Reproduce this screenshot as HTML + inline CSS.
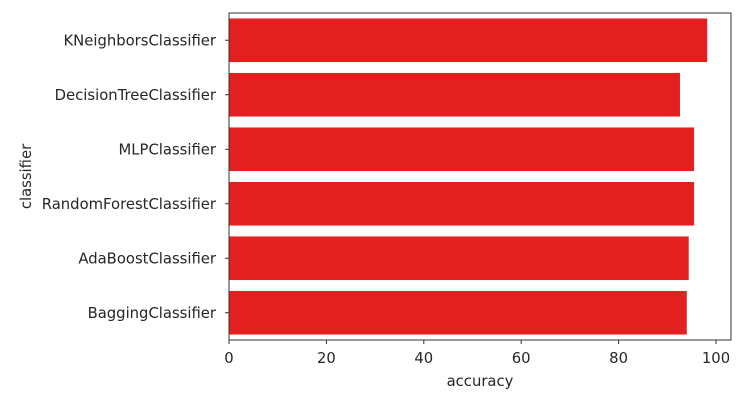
<!DOCTYPE html>
<html><head><meta charset="utf-8"><style>
body{margin:0;background:#fff;}
svg text{font-family:"DejaVu Sans","Liberation Sans",sans-serif;font-size:14.8px;fill:#262626;}
</style></head><body>
<svg id="chart" width="745" height="401" xmlns="http://www.w3.org/2000/svg"></svg>
<script>
const categories=["KNeighborsClassifier","DecisionTreeClassifier","MLPClassifier","RandomForestClassifier","AdaBoostClassifier","BaggingClassifier"];
const accuracy=[98.2,92.6,95.5,95.5,94.4,94.0];
const xTicks=[0,20,40,60,80,100];
const L=229,R=731,T=13,B=340,X0=229,X100=716;
const xs=v=>X0+(X100-X0)*v/100;
const band=(B-T)/categories.length;
const ys=i=>T+band*i;
const svg=document.getElementById('chart');
const NS='http://www.w3.org/2000/svg';
function mk(tag,attrs,parent){const e=document.createElementNS(NS,tag);for(const k in attrs)e.setAttribute(k,attrs[k]);(parent||svg).appendChild(e);return e;}
categories.forEach((c,i)=>{
  const r=mk('rect',{x:xs(0),y:ys(i)+band*0.1,width:xs(accuracy[i])-xs(0),height:band*0.8,fill:'#e31f1f'});
  
  
  const cy=ys(i)+band/2;
  mk('line',{x1:L-4,x2:L,y1:cy,y2:cy,stroke:'#333','stroke-width':1});
  const t=mk('text',{x:L-13,y:cy+5,'text-anchor':'end'});
  t.textContent=c;
  
  
});
xTicks.forEach(v=>{
  mk('line',{x1:xs(v),x2:xs(v),y1:B,y2:B+4,stroke:'#333','stroke-width':1});
  const t=mk('text',{x:xs(v),y:B+23,'text-anchor':'middle'});
  t.textContent=v;
  
  
});
const frame=mk('rect',{x:L,y:T,width:R-L,height:B-T,fill:'none',stroke:'#333','stroke-width':1});


const xl=mk('text',{x:(L+R)/2,y:386,'text-anchor':'middle'});
xl.textContent='accuracy';


const yl=mk('text',{x:0,y:0,'text-anchor':'middle',transform:'translate(31,'+((T+B)/2)+') rotate(-90)'});
yl.textContent='classifier';


</script>
</body></html>
